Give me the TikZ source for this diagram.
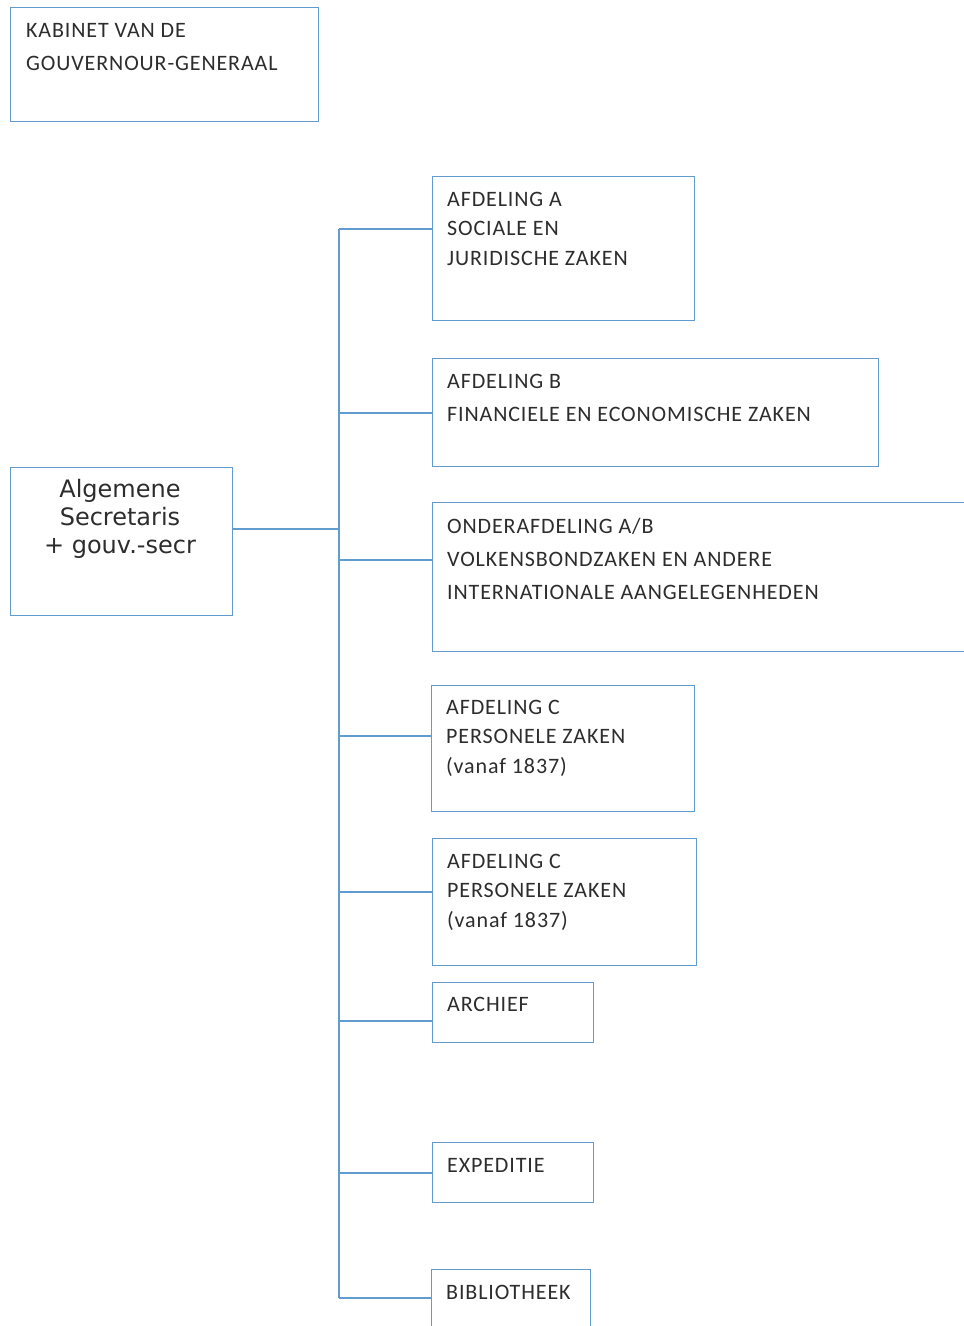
\documentclass[tikz,border=0pt]{standalone}
\usepackage{fontspec}
\setmainfont{Carlito}[LetterSpace=4]
\newfontfamily\dejavu{DejaVu Sans}
\definecolor{lineblue}{RGB}{98,155,208}
\definecolor{txt}{RGB}{45,45,45}
\begin{document}
\begin{tikzpicture}[x=1pt,y=-1pt,
  box/.style={draw=lineblue, line width=1.3pt, inner sep=0, anchor=north west},
  lbl/.style={anchor=base west, inner sep=0, align=left, text=txt, font=\fontsize{22}{29.5}\selectfont},
  lblwide/.style={lbl, font=\fontsize{22}{33}\selectfont},
  conn/.style={draw=lineblue, line width=1.3pt}]
\clip (0,0) rectangle (964,1326);
\fill[white] (0,0) rectangle (964,1326);
% boxes
\node[box, minimum width=308pt, minimum height=114pt] (kab) at (10,7) {};
\node[box, minimum width=222pt, minimum height=148pt] (alg) at (10,467) {};
\node[box, minimum width=262pt, minimum height=144pt] (bA) at (432,176) {};
\node[box, minimum width=446pt, minimum height=108pt] (bB) at (432,358) {};
\node[box, minimum width=560pt, minimum height=149pt] (bAB) at (432,502) {};
\node[box, minimum width=263pt, minimum height=126pt] (bC1) at (431,685) {};
\node[box, minimum width=264pt, minimum height=127pt] (bC2) at (432,838) {};
\node[box, minimum width=161pt, minimum height=60pt] (bAr) at (432,982) {};
\node[box, minimum width=161pt, minimum height=60pt] (bEx) at (432,1142) {};
\node[box, minimum width=159pt, minimum height=80pt] (bBi) at (431,1269) {};
% texts (anchor = baseline of the last line)
\node[lblwide] (tkab) at (26,70) {KABINET VAN DE\\GOUVERNOUR-GENERAAL};
\node[anchor=base, inner sep=0, align=center, text=txt, font=\dejavu\fontsize{24}{28}\selectfont] (talg) at (120,553) {Algemene\\Secretaris\\+ gouv.-secr};
\node[lbl] (tA) at (447,265) {AFDELING A\\SOCIALE EN\\JURIDISCHE ZAKEN};
\node[lblwide] (tB) at (447,421) {AFDELING B\\FINANCIELE EN ECONOMISCHE ZAKEN};
\node[lblwide] (tAB) at (447,599) {ONDERAFDELING A/B\\VOLKENSBONDZAKEN EN ANDERE\\INTERNATIONALE AANGELEGENHEDEN};
\node[lbl] (tC1) at (446,773) {AFDELING C\\PERSONELE ZAKEN\\(vanaf 1837)};
\node[lbl] (tC2) at (447,927) {AFDELING C\\PERSONELE ZAKEN\\(vanaf 1837)};
\node[lbl] (tAr) at (447,1011) {ARCHIEF};
\node[lbl] (tEx) at (447,1172) {EXPEDITIE};
\node[lbl] (tBi) at (446,1299) {BIBLIOTHEEK};
% trunk coordinates
\coordinate (j0) at (339,529);
\coordinate (jA) at (339,229);
\coordinate (jB) at (339,413);
\coordinate (jAB) at (339,560);
\coordinate (jC1) at (339,736);
\coordinate (jC2) at (339,892);
\coordinate (jAr) at (339,1021);
\coordinate (jEx) at (339,1173);
\coordinate (jBi) at (339,1298);
% connectors
\draw[conn] (jA) -- (jBi);
\draw[conn] (alg.east |- j0) -- (j0);
\draw[conn] (jA) -- (jA -| bA.west);
\draw[conn] (jB) -- (jB -| bB.west);
\draw[conn] (jAB) -- (jAB -| bAB.west);
\draw[conn] (jC1) -- (jC1 -| bC1.west);
\draw[conn] (jC2) -- (jC2 -| bC2.west);
\draw[conn] (jAr) -- (jAr -| bAr.west);
\draw[conn] (jEx) -- (jEx -| bEx.west);
\draw[conn] (jBi) -- (jBi -| bBi.west);
\end{tikzpicture}
\end{document}
